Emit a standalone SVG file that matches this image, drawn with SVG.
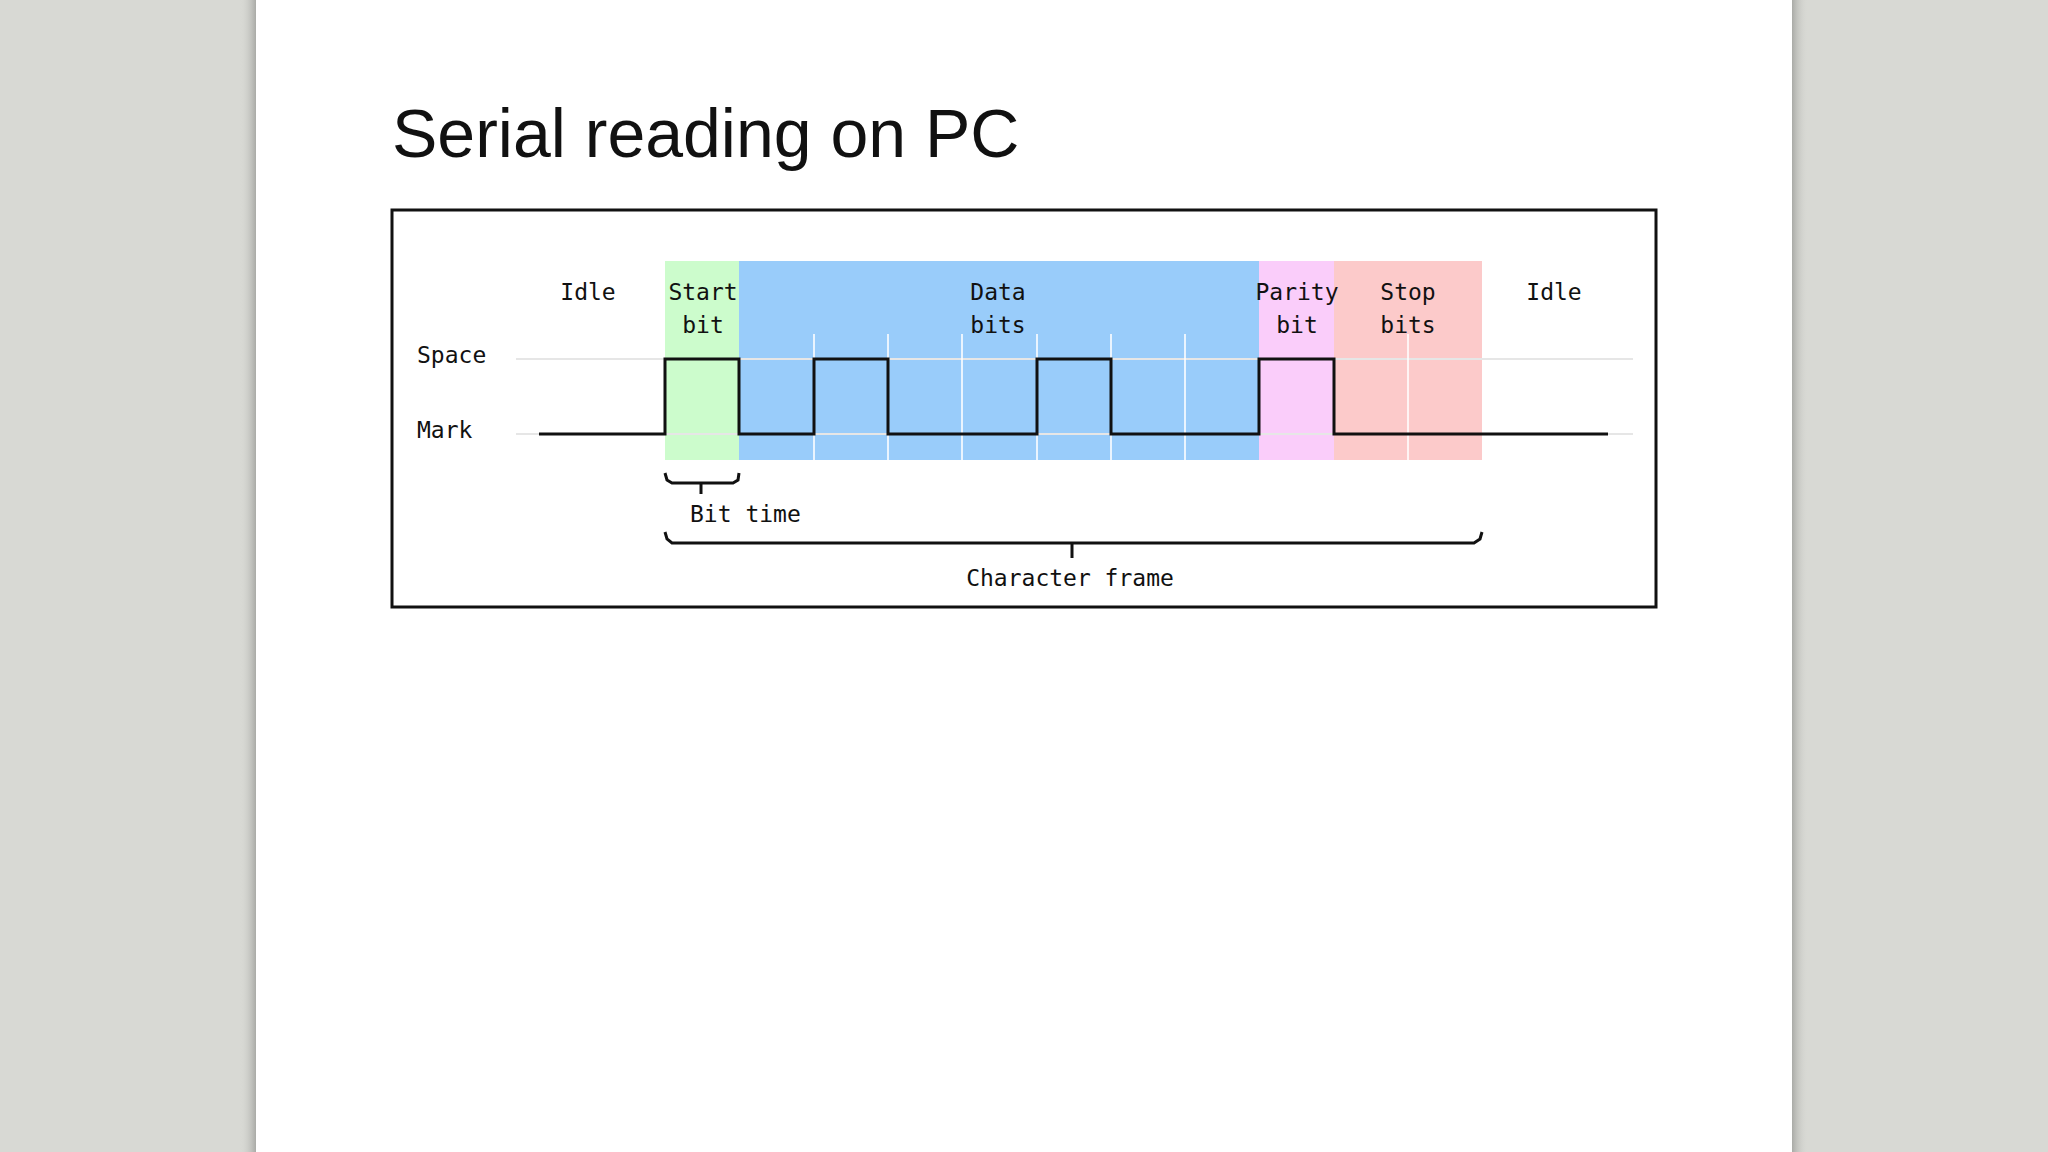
<svg xmlns="http://www.w3.org/2000/svg" width="2048" height="1152" viewBox="0 0 2048 1152">
<defs>
<style>
.lbl{font-family:"DejaVu Sans Mono","Liberation Mono",monospace;font-size:23px;fill:#111;text-anchor:middle}
.sig{fill:none;stroke:#111;stroke-width:3}
.grid{stroke:#fff;stroke-width:2;opacity:.8}
.guide{stroke:#e6e6e6;stroke-width:2}
</style>
<linearGradient id="shl" x1="0" x2="1"><stop offset="0" stop-color="#d8d9d4" stop-opacity="0"/><stop offset="1" stop-color="#a9aaa6"/></linearGradient>
<linearGradient id="shr" x1="0" x2="1"><stop offset="0" stop-color="#a9aaa6"/><stop offset="1" stop-color="#d8d9d4" stop-opacity="0"/></linearGradient>
</defs>
<rect width="2048" height="1152" fill="#d8d9d4"/>
<rect x="240" y="0" width="16" height="1152" fill="url(#shl)"/>
<rect x="1792" y="0" width="16" height="1152" fill="url(#shr)"/>
<rect x="256" y="0" width="1536" height="1152" fill="#fff"/>
<text x="392" y="157" font-family="Liberation Sans, Arial, sans-serif" font-size="68" fill="#111">Serial reading on PC</text>
<rect x="392" y="210" width="1264" height="397" fill="#fff" stroke="#111" stroke-width="3"/>
<g id="bands">
<rect x="665" y="261" width="74" height="199" fill="#ccfccc"/>
<rect x="739" y="261" width="520" height="199" fill="#99ccfa"/>
<rect x="1259" y="261" width="75" height="199" fill="#facdfa"/>
<rect x="1334" y="261" width="148" height="199" fill="#fccaca"/>
</g>
<g id="guides">
<line class="guide" x1="516" y1="359" x2="1633" y2="359"/>
<line class="guide" x1="516" y1="434" x2="1633" y2="434"/>
<g class="grid">
<line x1="814" y1="334" x2="814" y2="460"/><line x1="888" y1="334" x2="888" y2="460"/>
<line x1="962" y1="334" x2="962" y2="460"/><line x1="1037" y1="334" x2="1037" y2="460"/>
<line x1="1111" y1="334" x2="1111" y2="460"/><line x1="1185" y1="334" x2="1185" y2="460"/>
<line x1="1408" y1="334" x2="1408" y2="460"/>
</g>
</g>
<g id="labels">
<text class="lbl" x="588" y="300">Idle</text>
<text class="lbl" x="703" y="300">Start</text><text class="lbl" x="703" y="333">bit</text>
<text class="lbl" x="998" y="300">Data</text><text class="lbl" x="998" y="333">bits</text>
<text class="lbl" x="1297" y="300">Parity</text><text class="lbl" x="1297" y="333">bit</text>
<text class="lbl" x="1408" y="300">Stop</text><text class="lbl" x="1408" y="333">bits</text>
<text class="lbl" x="1554" y="300">Idle</text>
<text class="lbl" x="417" y="363" style="text-anchor:start">Space</text>
<text class="lbl" x="417" y="438" style="text-anchor:start">Mark</text>
<text class="lbl" x="690" y="522" style="text-anchor:start">Bit time</text>
<text class="lbl" x="1070" y="586">Character frame</text>
</g>
<g id="connectors">
<polyline class="sig" points="539,434 665,434 665,359 739,359 739,434 814,434 814,359 888,359 888,434 1037,434 1037,359 1111,359 1111,434 1259,434 1259,359 1334,359 1334,434 1608,434"/>
<path class="sig" d="M665,473 L667,480 L672,483 L733,483 L738,480 L739,473 M701,483 V494"/>
<path class="sig" d="M665,532 L667,539 L672,543 L1474,543 L1480,539 L1482,532 M1072,543 V558"/>
</g>
</svg>
